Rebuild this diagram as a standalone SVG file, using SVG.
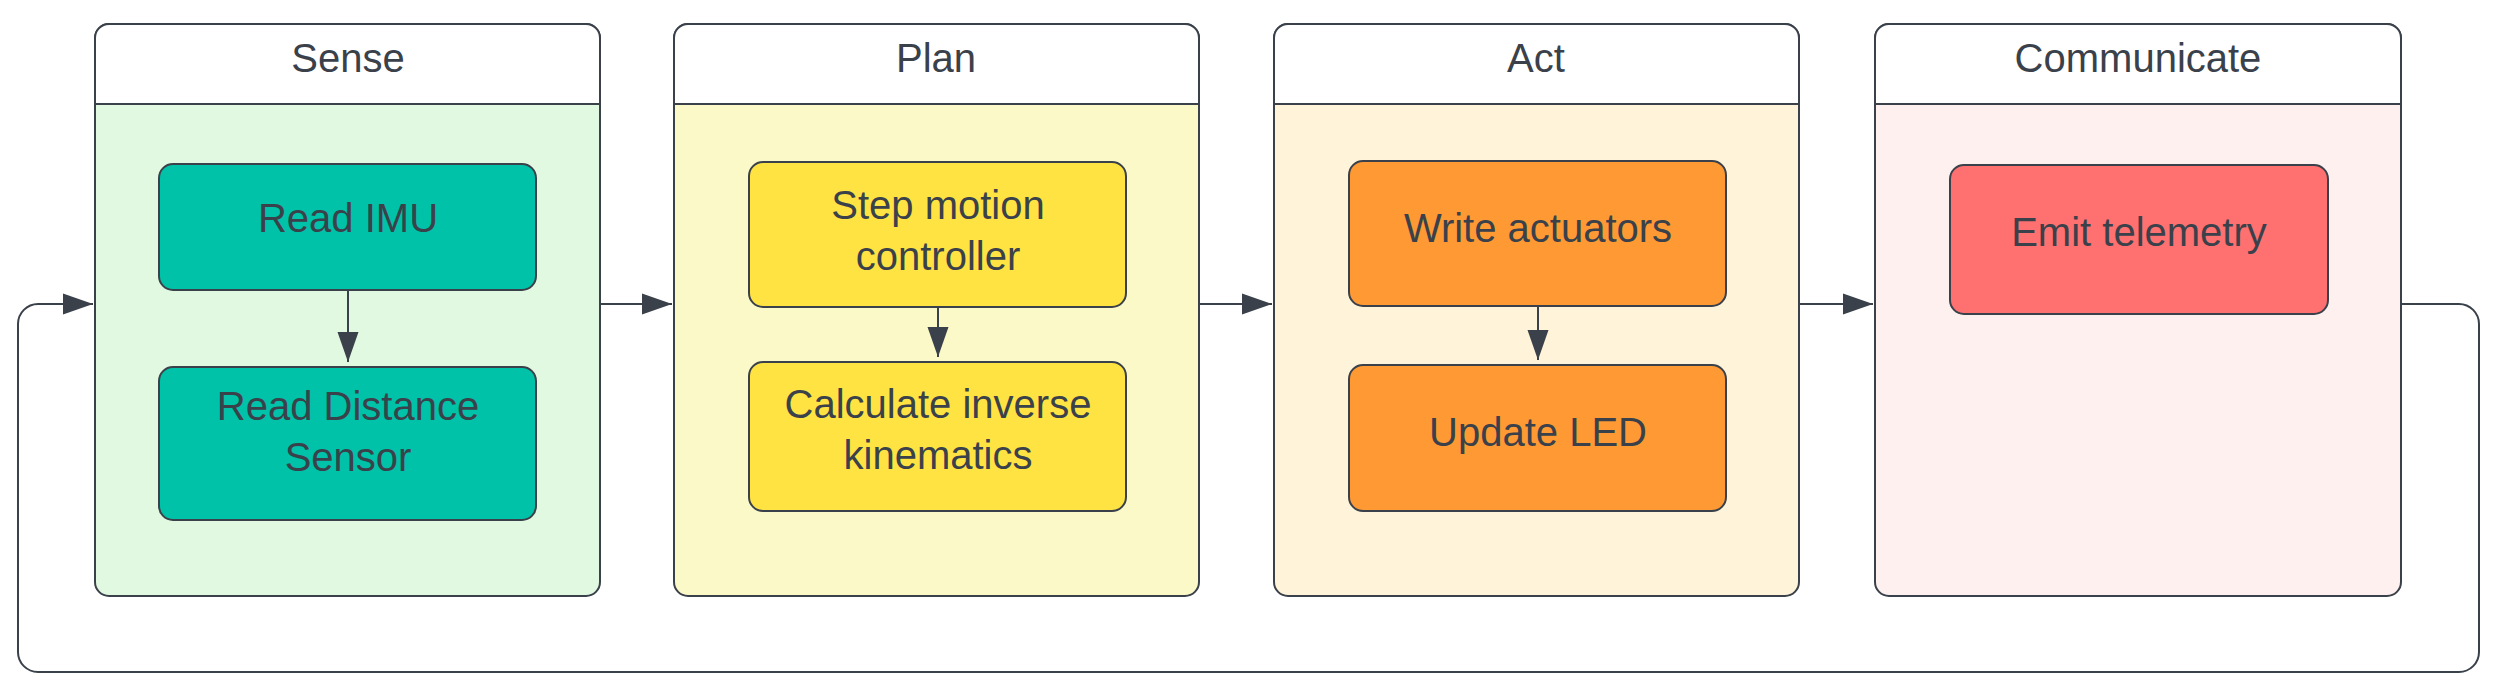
<svg xmlns="http://www.w3.org/2000/svg" width="2498" height="688" viewBox="0 0 2498 688">
<style>
text{font-family:"Liberation Sans",Arial,sans-serif;fill:#3a414a;text-anchor:middle}
.t{font-size:40px}
.n{font-size:40px}
.lane{stroke:#3a414a;stroke-width:2}
.node{stroke:#3a414a;stroke-width:2}
.c{fill:none;stroke:#3a414a;stroke-width:2}
</style>
<defs><marker id="a" viewBox="0 0 10 10" refX="10" refY="5" markerWidth="30" markerHeight="30" markerUnits="userSpaceOnUse" orient="auto"><path d="M0,1.5L10,5L0,8.5z" fill="#3a414a"/></marker></defs>
<rect width="2498" height="688" fill="#fff"/>
<g id="lane-sense"><rect class="lane" x="95" y="24" width="505" height="572" rx="14" fill="#e2f9e1"/><path class="lane" d="M95,104V38a14,14 0 0 1 14-14H586a14,14 0 0 1 14,14V104Z" fill="#fff"/><text class="t" x="348" y="72">Sense</text></g>
<g id="lane-plan"><rect class="lane" x="674" y="24" width="525" height="572" rx="14" fill="#fcf9c8"/><path class="lane" d="M674,104V38a14,14 0 0 1 14-14H1185a14,14 0 0 1 14,14V104Z" fill="#fff"/><text class="t" x="936" y="72">Plan</text></g>
<g id="lane-act"><rect class="lane" x="1274" y="24" width="525" height="572" rx="14" fill="#fff3d9"/><path class="lane" d="M1274,104V38a14,14 0 0 1 14-14H1785a14,14 0 0 1 14,14V104Z" fill="#fff"/><text class="t" x="1536" y="72">Act</text></g>
<g id="lane-comm"><rect class="lane" x="1875" y="24" width="526" height="572" rx="14" fill="#fdf0ef"/><path class="lane" d="M1875,104V38a14,14 0 0 1 14-14H2387a14,14 0 0 1 14,14V104Z" fill="#fff"/><text class="t" x="2138" y="72">Communicate</text></g>
<g id="read-imu"><rect class="node" x="159" y="164" width="377" height="126" rx="14" fill="#00c2a8"/><text class="n" x="348" y="232">Read IMU</text></g>
<g id="read-dist"><rect class="node" x="159" y="367" width="377" height="153" rx="14" fill="#00c2a8"/><text class="n" x="348" y="420">Read Distance</text><text class="n" x="348" y="471">Sensor</text></g>
<g id="step"><rect class="node" x="749" y="162" width="377" height="145" rx="14" fill="#ffe342"/><text class="n" x="938" y="219">Step motion</text><text class="n" x="938" y="270">controller</text></g>
<g id="calc"><rect class="node" x="749" y="362" width="377" height="149" rx="14" fill="#ffe342"/><text class="n" x="938" y="418">Calculate inverse</text><text class="n" x="938" y="469">kinematics</text></g>
<g id="write"><rect class="node" x="1349" y="161" width="377" height="145" rx="14" fill="#ff9933"/><text class="n" x="1538" y="242">Write actuators</text></g>
<g id="led"><rect class="node" x="1349" y="365" width="377" height="146" rx="14" fill="#ff9933"/><text class="n" x="1538" y="446">Update LED</text></g>
<g id="emit"><rect class="node" x="1950" y="165" width="378" height="149" rx="14" fill="#ff7070"/><text class="n" x="2139" y="246">Emit telemetry</text></g>
<g id="connectors">
<path class="c" d="M348,290V362" marker-end="url(#a)"/>
<path class="c" d="M938,307V357" marker-end="url(#a)"/>
<path class="c" d="M1538,306V360" marker-end="url(#a)"/>
<path class="c" d="M600,304H672" marker-end="url(#a)"/>
<path class="c" d="M1199,304H1272" marker-end="url(#a)"/>
<path class="c" d="M1799,304H1873" marker-end="url(#a)"/>
<path class="c" d="M2401,304H2459a20,20 0 0 1 20,20V652a20,20 0 0 1-20,20H38a20,20 0 0 1-20-20V324a20,20 0 0 1 20-20H93" marker-end="url(#a)"/>
</g>
</svg>
